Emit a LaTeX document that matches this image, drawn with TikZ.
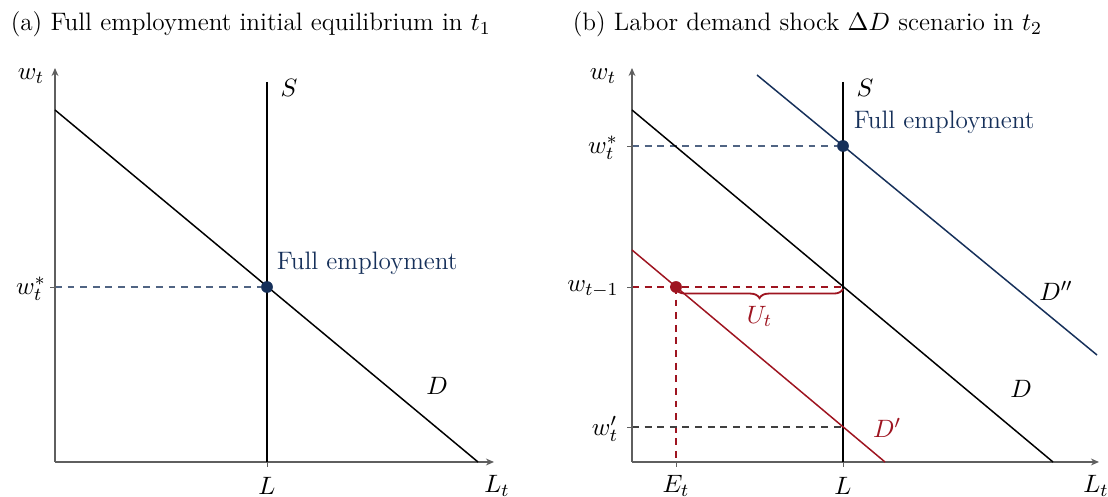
\documentclass[tikz,border=0pt]{standalone}
\usepackage{amsmath}
\usetikzlibrary{arrows.meta,decorations.pathreplacing,calc}
\definecolor{empblue}{RGB}{22,48,90}
\definecolor{shockred}{RGB}{158,20,32}
\definecolor{axisgray}{RGB}{95,95,95}

\begin{document}
\begin{tikzpicture}[
  x=0.436pt, y=-0.436pt,
  font=\fontsize{11}{13}\selectfont,
  axis/.style={-{Stealth[length=3.5pt,width=3pt]}, axisgray, line width=0.7pt},
  curve/.style={line width=0.65pt},
  guide/.style={dashed, line width=0.5pt, dash pattern=on 3pt off 2.5pt},
  tick/.style={axisgray, line width=0.3pt},
  dot/.style={circle, fill, inner sep=0pt, minimum size=5pt},
  lbl/.style={inner sep=1pt}
]
  \useasboundingbox (0,0) rectangle (1108,497);

  % (a) initial equilibrium
  \node[anchor=west, lbl] (titleA) at (8,24) {(a) Full employment initial equilibrium in $t_1$};
  \coordinate (Oa) at (55,462);
  \coordinate (Ya) at (55,68);
  \coordinate (Xa) at (494,462);
  \coordinate (Sa1) at (267,82);
  \coordinate (Sa0) at (267,462);
  \coordinate (Da1) at (55,110);
  \coordinate (Da0) at (478,462);
  \coordinate (Wa) at (55,287);
  \node[dot, empblue] (Ea) at (267,287) {};

  \draw[guide, empblue!75] (Wa) -- (Ea.center);
  \draw[tick] (Wa) -- ++(-5,0);
  \draw[tick] (Sa0) -- ++(0,5);
  \draw[axis] (Oa) -- (Ya);
  \draw[axis] (Oa) -- (Xa);
  \draw[curve] (Sa1) -- (Sa0);
  \draw[curve] (Da1) -- (Da0);
  \node[dot, empblue] at (Ea) {};

  \node[lbl] (wa) at (31,76) {$w_t$};
  \node[lbl] (wsa) at (31,289) {$w_t^*$};
  \node[lbl] (Sla) at (289,88) {$S$};
  \node[lbl, anchor=west, empblue] (fea) at (274,263) {Full employment};
  \node[lbl] (Dla) at (437,386) {$D$};
  \node[lbl] (La) at (267,486) {$L$};
  \node[lbl] (Lta) at (497,486) {$L_t$};

  % (b) labor demand shock
  \node[anchor=west, lbl] (titleB) at (570,24) {(b) Labor demand shock $\Delta D$ scenario in $t_2$};
  \coordinate (Ob) at (632,462);
  \coordinate (Yb) at (632,68);
  \coordinate (Xb) at (1099,462);
  \coordinate (Sb1) at (843,82);
  \coordinate (Sb0) at (843,462);
  \coordinate (Db1) at (632,110);
  \coordinate (Db0) at (1053,462);
  \coordinate (Dpp1) at (757,75);
  \coordinate (Dpp0) at (1097,355);
  \coordinate (Dp1) at (632,250);
  \coordinate (Dp0) at (885,462);
  \coordinate (Wsb) at (632,146);
  \coordinate (Wmb) at (632,287);
  \coordinate (Wpb) at (632,427);
  \coordinate (Cb) at (843,287);
  \coordinate (Pb) at (843,427);
  \coordinate (Eb0) at (676,462);
  \node[dot, empblue] (Fb) at (843,146) {};
  \node[dot, shockred] (Ub) at (676,287) {};

  \draw[guide, empblue!75] (Wsb) -- (Fb.center);
  \draw[guide, shockred] (Wmb) -- (Cb);
  \draw[guide, shockred] (Ub.center) -- (Eb0);
  \draw[guide, black!75] (Wpb) -- (Pb);
  \foreach \c in {Wsb,Wmb,Wpb} \draw[tick] (\c) -- ++(-5,0);
  \foreach \c in {Sb0,Eb0} \draw[tick] (\c) -- ++(0,5);
  \draw[axis] (Ob) -- (Yb);
  \draw[axis] (Ob) -- (Xb);
  \draw[curve] (Sb1) -- (Sb0);
  \draw[curve] (Db1) -- (Db0);
  \draw[curve, empblue] (Dpp1) -- (Dpp0);
  \draw[curve, shockred] (Dp1) -- (Dp0);
  \draw[shockred, line width=0.8pt, decorate, decoration={brace, mirror, amplitude=4pt}]
    ($(Ub)+(0,2)$) -- ($(Cb)+(0,2)$) node[midway, below=6pt, lbl] (Ul) {$U_t$};
  \node[dot, empblue] at (Fb) {};
  \node[dot, shockred] at (Ub) {};

  \node[lbl] (wb) at (603,76) {$w_t$};
  \node[lbl] (wsb) at (603,148) {$w_t^*$};
  \node[lbl] (wmb) at (593,289) {$w_{t-1}$};
  \node[lbl] (wpb) at (605,429) {$w_t'$};
  \node[lbl] (Slb) at (865,88) {$S$};
  \node[lbl, anchor=west, empblue] (feb) at (851,122) {Full employment};
  \node[lbl] (Dppl) at (1056,291) {$D''$};
  \node[lbl] (Dlb) at (1021,389) {$D$};
  \node[lbl, shockred] (Dpl) at (887,428) {$D'$};
  \node[lbl] (Lb) at (843,486) {$L$};
  \node[lbl] (Etb) at (676,486) {$E_t$};
  \node[lbl] (Ltb) at (1096,486) {$L_t$};
\end{tikzpicture}
\end{document}
